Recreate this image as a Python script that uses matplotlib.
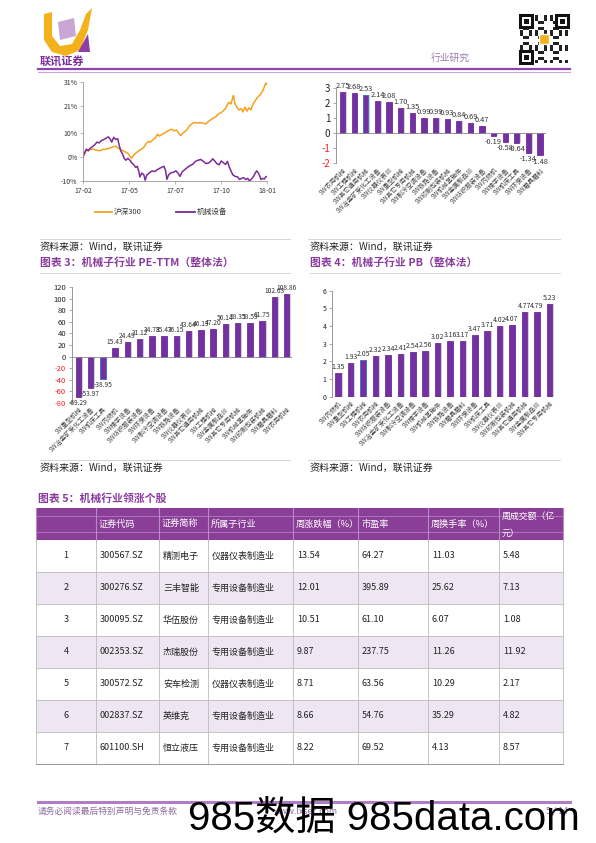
import matplotlib
matplotlib.use('Agg')
import matplotlib.pyplot as plt
from matplotlib.patches import Rectangle, Polygon

plt.rcParams['font.family'] = ['Noto Sans CJK SC', 'DejaVu Sans']
plt.rcParams['axes.unicode_minus'] = False

# ---------------- data ----------------
hs_t = [0, .018, .036, .055, .073, .091, .109, .127, .145, .164, .178, .191, .209, .227, .245, .258,
        .265, .276, .291, .309, .327, .342, .355, .367, .382, .396, .404, .415, .427, .44, .455, .469,
        .482, .495, .509, .524, .531, .545, .564, .578, .591, .604, .618, .636, .655, .667, .682, .695,
        .709, .724, .736, .751, .764, .775, .785, .793, .804, .813, .818, .825, .836, .847, .86, .869,
        .88, .891, .902, .913, .924, .936, .949, .964, .976, .985, .993, 1.0]
hs_v = [0, 2.5, 3.1, 3.2, 2.8, 2.5, 3.1, 3.2, 3.6, 4.2, 4.4, 3.6, 2.8, 2.2, 1.4, 0,
        -0.6, 0.8, 1.8, 2.8, 3.6, 5.3, 6.4, 6.1, 7.2, 8.1, 9.4, 8.6, 9.2, 9.7, 10.4, 11.1,
        11.4, 10.8, 11.1, 9.4, 8.9, 10.0, 11.1, 12.8, 13.6, 14.3, 14.0, 14.2, 13.9, 13.6, 14.7, 15.4,
        16.1, 16.7, 17.8, 18.3, 19.2, 20.0, 21.7, 22.6, 21.9, 24.4, 25.4, 22.2, 20.6, 19.4, 20.0, 18.6,
        20.6, 18.9, 20.3, 19.4, 21.9, 23.3, 24.7, 25.8, 27.2, 28.9, 30.6, 30.0]
jx_t = [0, .009, .018, .029, .04, .051, .064, .076, .087, .1, .113, .127, .138, .149, .156, .167,
        .178, .189, .196, .205, .215, .224, .233, .244, .255, .265, .276, .287, .295, .304, .309, .32,
        .331, .338, .347, .36, .375, .389, .404, .418, .431, .44, .449, .456, .465, .476, .491, .505,
        .516, .527, .54, .553, .567, .582, .596, .611, .625, .64, .655, .669, .684, .696, .705, .716,
        .727, .74, .751, .764, .775, .785, .795, .804, .815, .827, .84, .851, .862, .873, .884, .895,
        .905, .916, .927, .936, .944, .953, .96, .967, .976, .985, .993, 1.0]
jx_v = [0, 1.8, 3.2, 2.5, 3.6, 4.2, 5.0, 6.1, 5.8, 6.7, 7.2, 7.8, 8.3, 7.2, 6.1, 8.1,
        7.2, 7.5, 5.0, 2.5, 1.1, -0.6, -1.4, -0.6, -1.4, -2.5, -3.3, -4.4, -3.9, -6.1, -8.3, -6.7,
        -7.5, -9.7, -7.5, -6.7, -5.8, -6.1, -5.3, -4.7, -4.2, -3.9, -5.8, -9.3, -7.5, -6.7, -6.4, -5.8,
        -6.7, -8.1, -6.1, -5.3, -4.4, -3.6, -3.1, -1.9, -1.4, -1.1, -1.9, -2.8, -2.5, -1.7, -0.8, -1.7,
        -2.8, -3.3, -1.7, -2.5, -3.1, -1.9, -4.2, -5.8, -7.5, -8.1, -8.3, -9.4, -8.9, -8.6, -9.4, -8.9,
        -10.0, -9.2, -8.1, -6.7, -5.8, -6.7, -7.8, -9.4, -8.9, -9.2, -8.3, -8.1]
line_xlabels = ['17-02', '17-05', '17-07', '17-10', '18-01']
line_yticks = [31, 21, 10, 0, -10]
line_names = ['沪深300', '机械设备']

chg_cats = ['SW农用机械', 'SW工程机械', 'SW其它通用机械', 'SW冶金矿采化工设备', 'SW仪器仪表Ⅲ',
            'SW重型机械', 'SW其它专用机械', 'SW制冷空调设备', 'SW铁路设备', 'SW印刷包装机械',
            'SW机械基础件', 'SW金属制品Ⅲ', 'SW纺织服装设备', 'SW内燃机', 'SW楼宇设备',
            'SW机床工具', 'SW环保设备', 'SW磨具磨料']
chg_vals = [2.75, 2.68, 2.53, 2.14, 2.08, 1.70, 1.35, 0.99, 0.99, 0.93, 0.84, 0.69, 0.47,
            -0.19, -0.58, -0.64, -1.34, -1.48]

pe_cats = ['SW重型机械', 'SW冶金矿采化工设备', 'SW机床工具', 'SW内燃机', 'SW楼宇设备',
           'SW纺织服装设备', 'SW环保设备', 'SW制冷空调设备', 'SW铁路设备', 'SW仪器仪表Ⅲ',
           'SW其它通用机械', 'SW工程机械', 'SW金属制品Ⅲ', 'SW其它专用机械', 'SW机械基础件',
           'SW印刷包装机械', 'SW磨具磨料', 'SW农用机械']
pe_vals = [-69.29, -53.97, -38.95, 15.43, 24.49, 31.12, 34.78, 35.47, 36.15, 43.64, 46.13,
           47.20, 56.14, 58.35, 58.59, 61.75, 102.63, 108.86]

pb_cats = ['SW内燃机', 'SW重型机械', 'SW工程机械', 'SW农用机械', 'SW纺织服装设备',
           'SW冶金矿采化工设备', 'SW制冷空调设备', 'SW楼宇设备', 'SW机械基础件', 'SW铁路设备',
           'SW磨具磨料', 'SW环保设备', 'SW机床工具', 'SW仪器仪表Ⅲ', 'SW印刷包装机械',
           'SW其它通用机械', 'SW金属制品Ⅲ', 'SW其它专用机械']
pb_vals = [1.35, 1.93, 2.05, 2.32, 2.34, 2.41, 2.54, 2.56, 3.02, 3.16, 3.17, 3.47, 3.71,
           4.02, 4.07, 4.77, 4.79, 5.23]

tbl_header = ['', '证券代码', '证券简称', '所属子行业', '周涨跌幅（%）', '市盈率', '周换手率（%）',
              '周成交额（亿\n元）']
tbl_rank = ['1', '2', '3', '4', '5', '6', '7']
tbl_code = ['300567.SZ', '300276.SZ', '300095.SZ', '002353.SZ', '300572.SZ', '002837.SZ', '601100.SH']
tbl_name = ['精测电子', '三丰智能', '华伍股份', '杰瑞股份', '安车检测', '英维克', '恒立液压']
tbl_ind = ['仪器仪表制造业', '专用设备制造业', '专用设备制造业', '专用设备制造业', '仪器仪表制造业',
           '专用设备制造业', '专用设备制造业']
tbl_chg = ['13.54', '12.01', '10.51', '9.87', '8.71', '8.66', '8.22']
tbl_pe = ['64.27', '395.89', '61.10', '237.75', '63.56', '54.76', '69.52']
tbl_turn = ['11.03', '25.62', '6.07', '11.26', '10.29', '35.29', '4.13']
tbl_amt = ['5.48', '7.13', '1.08', '11.92', '2.17', '4.82', '8.57']

# ---------------- figure ----------------
W, H = 596, 843
fig = plt.figure(figsize=(W / 100, H / 100), dpi=100)
PURPLE = '#7330A0'
ORANGE = '#F2A21C'
TITLE_C = '#8A3C9E'


def add_ax(x0, y0, x1, y1):
    ax = fig.add_axes([x0 / W, 1 - y1 / H, (x1 - x0) / W, (y1 - y0) / H])
    ax.patch.set_alpha(0)
    return ax


ov = fig.add_axes([0, 0, 1, 1])
ov.set_xlim(0, W)
ov.set_ylim(H, 0)
ov.axis('off')

# ---- page header ----
ov.add_patch(Polygon([(44, 14), (52, 12), (52, 36), (60, 46), (72, 44), (80, 30), (86, 14), (92, 8),
                      (88, 30), (80, 50), (66, 56), (52, 52), (44, 40)], closed=True,
                     facecolor='#F3B21B', edgecolor='none'))
ov.add_patch(Polygon([(58, 22), (74, 18), (76, 36), (60, 40)], closed=True, facecolor='#C9A6D6',
                     edgecolor='none'))
ov.add_patch(Polygon([(78, 52), (90, 52), (88, 34)], closed=True, facecolor='#8E3FA6', edgecolor='none'))
ov.text(40, 61, '联讯证券', fontsize=8, color='#7B2F9B', fontweight='bold', va='center', ha='left')
ov.text(431, 58, '行业研究', fontsize=7, color='#9B7AAE', va='center', ha='left')
# QR-like block
ov.add_patch(Rectangle((520, 15), 48, 48, facecolor='white', edgecolor='none'))
for i in range(16):
    for j in range(16):
        if ((i * 7 + j * 11 + i * j) % 5) < 2:
            ov.add_patch(Rectangle((520 + i * 3, 15 + j * 3), 3, 3, facecolor='#222222', edgecolor='none'))
for (qx, qy) in [(520, 15), (556, 15), (520, 51)]:
    ov.add_patch(Rectangle((qx, qy), 12, 12, facecolor='white', edgecolor='#111111', lw=2.2))
    ov.add_patch(Rectangle((qx + 3.5, qy + 3.5), 5, 5, facecolor='#111111', edgecolor='none'))
ov.add_patch(Rectangle((539, 34), 10, 10, facecolor='#F3B21B', edgecolor='white', lw=1))
ov.plot([38, 570], [69, 69], color='#8E44AD', lw=1.6)
ov.plot([38, 570], [71.5, 71.5], color='#C9A6D6', lw=0.8)

# ---- line chart ----
ax1 = add_ax(83, 82, 267, 181)
ax1.plot(hs_t, hs_v, color=ORANGE, lw=1.1)
ax1.plot(jx_t, jx_v, color='#7B2C97', lw=1.1)
ax1.set_xlim(0, 1)
ax1.set_ylim(-10, 31)
ax1.set_yticks(line_yticks)
ax1.set_yticklabels([f'{v}%' for v in line_yticks], fontsize=5, color='#333333')
ax1.set_xticks([0, 0.25, 0.5, 0.75, 1.0])
ax1.set_xticklabels(line_xlabels, fontsize=5, color='#333333')
for s in ['top', 'right']:
    ax1.spines[s].set_visible(False)
for s in ['left', 'bottom']:
    ax1.spines[s].set_color('#999999')
    ax1.spines[s].set_linewidth(0.6)
ax1.tick_params(length=2, width=0.5, color='#999999', pad=2)
ov.plot([95, 112], [212, 212], color=ORANGE, lw=1.3)
ov.text(114, 212, line_names[0], fontsize=5.5, va='center', ha='left', color='#333333')
ov.plot([176, 195], [212, 212], color='#7B2C97', lw=1.3)
ov.text(197, 212, line_names[1], fontsize=5.5, va='center', ha='left', color='#333333')


def bar_chart(ax, cats, vals, ylim, yticks, tick_fs, neg_red, lab_fs, xlim, val_fs, highlight=2):
    xs = list(range(len(vals)))
    ax.bar([x + 0.13 for x in xs], vals, width=0.45, color='#CFCFCF', zorder=1)
    ecs = ['#3A6FC4' if i == highlight else PURPLE for i in xs]
    ax.bar(xs, vals, width=0.45, color=PURPLE, edgecolor=ecs, linewidth=0.6, zorder=2)
    ax.set_xlim(*xlim)
    ax.set_ylim(*ylim)
    ax.set_yticks(yticks)
    ax.set_yticklabels([str(t) for t in yticks], fontsize=tick_fs)
    for t, lab in zip(yticks, ax.get_yticklabels()):
        lab.set_color('#FF2020' if (neg_red and t < 0) else '#222222')
    ax.set_xticks(xs)
    ax.set_xticklabels(cats, rotation=45, ha='right', rotation_mode='anchor', fontsize=lab_fs,
                       color='#444444')
    ax.tick_params(axis='x', length=0, pad=2)
    ax.tick_params(axis='y', length=2, width=0.5, color='#888888', pad=2)
    for s in ['top', 'right', 'bottom']:
        ax.spines[s].set_visible(False)
    ax.spines['left'].set_color('#888888')
    ax.spines['left'].set_linewidth(0.6)
    ax.axhline(0, color='#888888', lw=0.6, zorder=3)
    for x, v in zip(xs, vals):
        if v >= 0:
            ax.annotate(f'{v:.2f}', (x, v), xytext=(0, 1.5), textcoords='offset points', ha='center',
                        va='bottom', fontsize=val_fs, color='#333333', annotation_clip=False)
        else:
            ax.annotate(f'{v:.2f}', (x, v), xytext=(0, -1.5), textcoords='offset points', ha='center',
                        va='top', fontsize=val_fs, color='#333333', annotation_clip=False)


ax2 = add_ax(335.7, 88.3, 545.8, 163.3)
bar_chart(ax2, chg_cats, chg_vals, (-2, 3), [-2, -1, 0, 1, 2, 3], 7, True, 4.6, (-0.6, 17.5), 5.3)

ax3 = add_ax(71.7, 287.3, 291.7, 402.7)
bar_chart(ax3, pe_cats, pe_vals, (-80, 120), [-80, -60, -40, -20, 0, 20, 40, 60, 80, 100, 120], 5.5,
          True, 4.6, (-0.54, 17.41), 4.8)

ax4 = add_ax(332.3, 290.7, 556, 396.7)
bar_chart(ax4, pb_cats, pb_vals, (0, 6), [0, 1, 2, 3, 4, 5, 6], 5, False, 4.6, (-0.48, 17.54), 5)

# ---- sources and titles ----
for (x0, x1, y) in [(40, 290, 239), (308, 560, 239), (40, 290, 272.5), (310, 560, 272.5),
                    (40, 290, 460), (308, 560, 460)]:
    ov.plot([x0, x1], [y, y], color='#D0D0D0', lw=0.6)
for (x, y) in [(40, 247), (310, 247), (40, 468), (310, 468)]:
    ov.text(x, y, '资料来源：Wind，联讯证券', fontsize=7.2, va='center', ha='left', color='#222222')
ov.text(40, 263, '图表 3：机械子行业 PE-TTM（整体法）', fontsize=7.8, fontweight='bold', color=TITLE_C,
        va='center', ha='left')
ov.text(310, 263, '图表 4：机械子行业 PB（整体法）', fontsize=7.8, fontweight='bold', color=TITLE_C,
        va='center', ha='left')
ov.text(38, 499, '图表 5：机械行业领涨个股', fontsize=7.8, fontweight='bold', color=TITLE_C,
        va='center', ha='left')

# ---- table ----
cols = [36, 96, 159, 208, 293, 358, 428, 499, 563]
hy0, hy1 = 508, 540
rh = 32
ov.add_patch(Rectangle((cols[0], hy0), cols[-1] - cols[0], hy1 - hy0, facecolor='#8B3E98',
                       edgecolor='none'))
for yy in [516, 531.5]:
    ov.plot([cols[0], cols[-1]], [yy, yy], color='#B27DC0', lw=0.6)
for c in cols:
    ov.plot([c, c], [hy0, hy1], color='#B98BC6', lw=0.8)
for ci, htxt in enumerate(tbl_header):
    if not htxt:
        continue
    if '\n' in htxt:
        l1, l2 = htxt.split('\n')
        ov.text(cols[ci] + 3, 516.5, l1, fontsize=6.4, color='white', va='center', ha='left')
        ov.text(cols[ci] + 3, 533, l2, fontsize=6.4, color='white', va='center', ha='left')
    else:
        ov.text(cols[ci] + 3, 524, htxt, fontsize=6.6, color='white', va='center', ha='left')

rows = list(zip(tbl_rank, tbl_code, tbl_name, tbl_ind, tbl_chg, tbl_pe, tbl_turn, tbl_amt))
for ri, row in enumerate(rows):
    y0 = hy1 + ri * rh
    fc = '#EEE7F3' if ri % 2 == 1 else 'white'
    ov.add_patch(Rectangle((cols[0], y0), cols[-1] - cols[0], rh, facecolor=fc, edgecolor='none'))
    ov.plot([cols[0], cols[-1]], [y0 + rh, y0 + rh], color='#BBBBBB', lw=0.6)
    for ci, val in enumerate(row):
        if ci == 0:
            ov.text((cols[0] + cols[1]) / 2, y0 + rh / 2, val, fontsize=6.5, color='#222222',
                    va='center', ha='center')
        else:
            ov.text(cols[ci] + 4, y0 + rh / 2, val, fontsize=6.5, color='#222222', va='center',
                    ha='left')
tb = hy1 + len(rows) * rh
for c in cols:
    ov.plot([c, c], [hy1, tb], color='#BBBBBB', lw=0.6)
ov.plot([cols[0], cols[-1]], [tb, tb], color='#999999', lw=0.7)

# ---- footer ----
ov.plot([38, 570], [802, 802], color='#B07CC6', lw=2.2)
ov.text(38, 811, '请务必阅读最后特别声明与免责条款', fontsize=6.3, color='#8E6BA0', va='center', ha='left')
ov.text(274, 811, 'www.lxsec.com', fontsize=6.3, color='#8E6BA0', va='center', ha='left')
ov.text(568, 811, '5 / 14', fontsize=6.3, color='#8E6BA0', va='center', ha='right')
ov.text(188, 819, '985数据 985data.com', fontsize=29, color='black', va='center', ha='left',
        family=['Liberation Sans', 'Noto Sans CJK SC'])

fig.savefig('out.png', dpi=100)
